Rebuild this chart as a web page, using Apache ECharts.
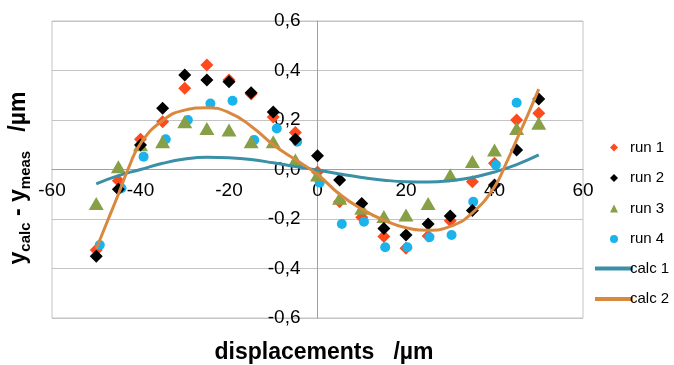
<!DOCTYPE html>
<html><head><meta charset="utf-8">
<script src="https://cdn.jsdelivr.net/npm/echarts@6/dist/echarts.min.js"></script>
<style>html,body{margin:0;padding:0;background:#fff}#c{width:674px;height:365px}</style>
</head><body><div id="c"></div>
<script>
var xs = [-50,-45,-40,-35,-30,-25,-20,-15,-10,-5,0,5,10,15,20,25,30,35,40,45,50];
var xs4 = [-49.2,-44.3,-39.3,-34.3,-29.3,-24.2,-19.2,-14.3,-9.2,-4.6,0.5,5.5,10.5,15.3,20.3,25.3,30.3,35.2,40.3,45,50];
var run1 = [-0.325,-0.045,0.122,0.193,0.328,0.422,0.362,0.305,0.212,0.149,-0.01,-0.13,-0.193,-0.271,-0.318,-0.269,-0.207,-0.049,0.025,0.2,0.227];
var run2 = [-0.35,-0.08,0.099,0.247,0.382,0.362,0.355,0.31,0.232,0.122,0.056,-0.042,-0.137,-0.238,-0.265,-0.22,-0.188,-0.166,-0.063,0.079,0.285];
var run3 = [-0.137,0.011,0.10,0.112,0.193,0.166,0.16,0.112,0.112,0.038,-0.022,-0.116,-0.157,-0.19,-0.184,-0.137,-0.022,0.032,0.079,0.166,0.187];
var run4 = [-0.305,-0.076,0.052,0.122,0.2,0.267,0.278,0.119,0.166,0.112,-0.053,-0.22,-0.211,-0.314,-0.314,-0.274,-0.265,-0.13,0.018,0.27,null];
var calcX = [-50,-45,-40,-35,-30,-25,-20,-15,-10,-5,0,5,10,15,20,25,30,35,40,45,50];
var calc1 = [-0.058,-0.025,0.0,0.025,0.042,0.049,0.047,0.04,0.027,0.012,-0.002,-0.018,-0.032,-0.043,-0.049,-0.05,-0.045,-0.032,-0.01,0.02,0.059];
var calc2X = [-50,-47.5,-45,-42.5,-40,-35,-30,-25,-20,-15,-10,-5,0,5,10,15,20,25,30,35,40,42.5,45,47.5,50];
var calc2 = [-0.32,-0.21,-0.1,0.015,0.105,0.198,0.24,0.25,0.23,0.175,0.1,0.04,-0.02,-0.1,-0.16,-0.205,-0.235,-0.245,-0.23,-0.175,-0.07,0.02,0.12,0.22,0.325];
var xTicks = [-60,-40,-20,0,20,40,60];
var yTicks = [-0.6,-0.4,-0.2,0,0.2,0.4,0.6];
var names = ['run 1','run 2','run 3','run 4','calc 1','calc 2'];

function pairs(x, y){ var o=[]; for (var i=0;i<y.length;i++){ if (y[i]!==null) o.push([x[i],y[i]]); } return o; }
var FF = '"Liberation Sans", Arial, sans-serif';
var G = {left:52,right:91,top:21,bottom:47};
var W = 674 - G.left - G.right, H = 365 - G.top - G.bottom;
var xMin = xTicks[0], xMax = xTicks[xTicks.length-1], yMin = yTicks[0], yMax = yTicks[yTicks.length-1];
// move the axes (line + labels) onto the zero lines
var yOff = -W * (0 - xMin) / (xMax - xMin);
var xOff = -H * (yMax - 0) / (yMax - yMin);
var chart = echarts.init(document.getElementById('c'), null, {renderer:'canvas'});
chart.setOption({
  animation:false,
  textStyle:{fontFamily:FF},
  grid:{left:G.left,right:G.right,top:G.top,bottom:G.bottom,show:true,borderColor:'#c4c4c4',borderWidth:1,containLabel:false},
  xAxis:{type:'value',min:xMin,max:xMax,interval:20,offset:xOff,
    axisLine:{show:true,onZero:false,lineStyle:{color:'#a0a0a0',width:1}},
    axisTick:{show:false},splitLine:{show:false},
    axisLabel:{color:'#000',fontSize:19,margin:12,fontFamily:FF,formatter:function(v){return String(v);}}},
  yAxis:{type:'value',min:yMin,max:yMax,interval:0.2,offset:yOff,
    axisLine:{show:true,onZero:false,lineStyle:{color:'#a0a0a0',width:1}},
    axisTick:{show:false},
    splitLine:{show:true,lineStyle:{color:'#c4c4c4',width:1}},
    axisLabel:{color:'#000',fontSize:19,margin:17,fontFamily:FF,formatter:function(v){return (Math.abs(v)<1e-9?0:v).toFixed(1).replace('.',',');}}},
  legend:[
    {orient:'vertical',left:605,top:135,itemWidth:8,itemHeight:8,itemGap:15.5,
     data:[{name:names[0],icon:'diamond'},{name:names[1],icon:'diamond'},{name:names[2],icon:'triangle'},{name:names[3],icon:'circle'}],
     textStyle:{fontSize:15,color:'#000',fontFamily:FF,padding:[0,0,0,7]}},
    {orient:'vertical',left:590,top:256,itemWidth:38,itemHeight:4,itemGap:15.5,
     data:[{name:names[4],icon:'rect'},{name:names[5],icon:'rect'}],
     textStyle:{fontSize:15,color:'#000',fontFamily:FF,padding:[0,0,0,-8]}}
  ],
  graphic:[
    {type:'text',x:324,y:353,style:{text:'displacements   /µm',font:'bold 23px "Liberation Sans", Arial, sans-serif',fill:'#000',align:'center',verticalAlign:'middle'}},
    {type:'text',x:19,y:178,rotation:Math.PI/2,style:{text:'{b|y}{s|calc}{b| - y}{s|meas}{b|   /µm}',align:'center',verticalAlign:'middle',fill:'#000',
      rich:{b:{fontSize:23,fontWeight:'bold',fontFamily:FF,lineHeight:28,fill:'#000'},s:{fontSize:15,fontWeight:'bold',fontFamily:FF,verticalAlign:'bottom',fill:'#000'}}}}
  ],
  series:[
    {name:names[0],type:'scatter',z:2,symbol:'diamond',symbolSize:13,itemStyle:{color:'#fe4a1c',opacity:1},data:pairs(xs,run1)},
    {name:names[1],type:'scatter',z:5,symbol:'diamond',symbolSize:13,itemStyle:{color:'#000000',opacity:1},data:pairs(xs,run2)},
    {name:names[2],type:'scatter',z:4,symbol:'triangle',symbolSize:[15,13],itemStyle:{color:'#87a046',opacity:1},data:pairs(xs,run3)},
    {name:names[3],type:'scatter',z:3,symbol:'circle',symbolSize:10,itemStyle:{color:'#1bb3ec',opacity:1},data:pairs(xs4,run4)},
    {name:names[4],type:'line',z:6,smooth:true,symbol:'none',lineStyle:{color:'#3b8fa6',width:3},itemStyle:{color:'#3b8fa6'},data:pairs(calcX,calc1)},
    {name:names[5],type:'line',z:7,smooth:true,symbol:'none',lineStyle:{color:'#d98840',width:3},itemStyle:{color:'#d98840'},data:pairs(calc2X,calc2)}
  ]
});
</script></body></html>
